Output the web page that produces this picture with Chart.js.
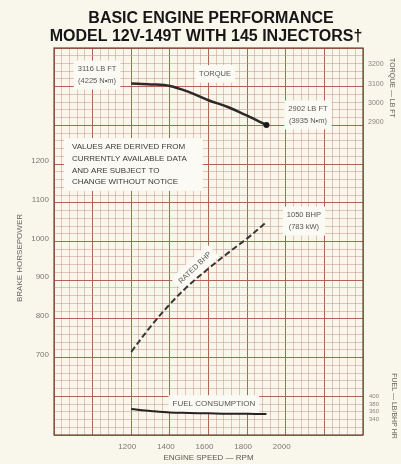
<!DOCTYPE html>
<html>
<head>
<meta charset="utf-8">
<script src="https://cdn.jsdelivr.net/npm/chart.js@4.4.0/dist/chart.umd.min.js"></script>
<style>
  html, body { margin: 0; padding: 0; background: #f9f6ec; }
</style>
</head>
<body>
<canvas id="perfChart" width="401" height="464"></canvas>
<script>
// values
var rpm = [1200, 1300, 1400, 1500, 1600, 1700, 1800, 1900];
var bhp = [715, 780, 838, 888, 930, 970, 1008, 1050];
var torque = [3116, 3112, 3104, 3072, 3030, 2995, 2950, 2902];
var fuel = [367, 362, 358, 357, 356, 355, 355, 354];

// which tick labels are printed on each axis
var rpmLabels = [1200, 1400, 1600, 1800, 2000];
var bhpLabels = [700, 800, 900, 1000, 1100, 1200];
var torqueLabels = [2900, 3000, 3100, 3200];
var fuelLabels = [340, 360, 380, 400];

var MAJOR = 'rgb(178, 100, 82)';
var MINOR = 'rgba(196, 146, 134, 0.5)';
var FONT = '"Liberation Sans", Arial, sans-serif';

function pts(ys) {
  return rpm.map(function (r, i) { return { x: r, y: ys[i] }; });
}

function onlyLabels(list) {
  return function (v) { return list.indexOf(v) >= 0 ? String(v) : ''; };
}

// text on the sheet, placed in rpm / bhp units
var notes = [
  { lines: ['3116 LB FT', '(4225 N\u2022m)'], rpm: 1023, bhp: 1430, size: 7.5 },
  { lines: ['TORQUE'], rpm: 1634, bhp: 1433, size: 7.5 },
  { lines: ['2902 LB FT', '(3935 N\u2022m)'], rpm: 2115, bhp: 1327, size: 7.5 },
  { lines: ['1050 BHP', '(783 kW)'], rpm: 2094, bhp: 1053, size: 7.5 },
  { lines: ['VALUES ARE DERIVED FROM', 'CURRENTLY AVAILABLE DATA', 'AND ARE SUBJECT TO', 'CHANGE WITHOUT NOTICE'],
    rpm: 893, bhp: 1199, size: 8, align: 'left', lh: 11.7, color: '#3d3a36' },
  { lines: ['RATED BHP'], rpm: 1530, bhp: 932, size: 7.5, rotate: -44 },
  { lines: ['FUEL CONSUMPTION'], rpm: 1628, bhp: 580, size: 8 }
];

var sheet = {
  id: 'sheet',
  beforeDraw: function (chart) {
    var ctx = chart.ctx;
    ctx.save();
    ctx.fillStyle = '#f9f6ec';
    ctx.fillRect(0, 0, chart.width, chart.height);
    ctx.restore();
  },
  beforeDatasetsDraw: function (chart) {
    var ctx = chart.ctx, sx = chart.scales.x, sy = chart.scales.y;
    notes.forEach(function (n) {
      var lh = n.lh || 11.5;
      ctx.save();
      ctx.translate(sx.getPixelForValue(n.rpm), sy.getPixelForValue(n.bhp));
      if (n.rotate) ctx.rotate(n.rotate * Math.PI / 180);
      ctx.font = n.size + 'px ' + FONT;
      var w = 0;
      n.lines.forEach(function (t) { w = Math.max(w, ctx.measureText(t).width); });
      var h = lh * n.lines.length;
      var x0 = n.align === 'left' ? -8 : -w / 2 - 4;
      ctx.fillStyle = '#fbfaf4';
      ctx.fillRect(x0, -h / 2 - 3, w + (n.align === 'left' ? 24 : 8), h + 6);
      ctx.fillStyle = n.color || '#5a5652';
      ctx.textAlign = n.align || 'center';
      ctx.textBaseline = 'middle';
      n.lines.forEach(function (t, i) {
        ctx.fillText(t, 0, -h / 2 + lh * (i + 0.5));
      });
      ctx.restore();
    });
  },
  afterDraw: function (chart) {
    var ctx = chart.ctx, a = chart.chartArea;
    ctx.save();
    ctx.strokeStyle = 'rgb(120, 70, 55)';
    ctx.lineWidth = 1.2;
    ctx.strokeRect(a.left, a.top, a.right - a.left, a.bottom - a.top);

    ctx.fillStyle = '#161616';
    ctx.textAlign = 'center';
    ctx.textBaseline = 'middle';
    ctx.font = 'bold 16px ' + FONT;
    ctx.fillText('BASIC ENGINE PERFORMANCE', 211, 19);
    ctx.fillText('MODEL 12V-149T WITH 145 INJECTORS\u2020', 206, 37);

    ctx.fillStyle = '#6a6662';
    ctx.font = '8px ' + FONT;
    ctx.save();
    ctx.translate(20, 258);
    ctx.rotate(-Math.PI / 2);
    ctx.fillText('BRAKE HORSEPOWER', 0, 0);
    ctx.restore();

    ctx.font = '7px ' + FONT;
    ctx.save();
    ctx.translate(392, 88);
    ctx.rotate(Math.PI / 2);
    ctx.fillText('TORQUE \u2014 LB FT', 0, 0);
    ctx.restore();

    ctx.save();
    ctx.translate(394, 406);
    ctx.rotate(Math.PI / 2);
    ctx.fillText('FUEL \u2014 LB/BHP HR', 0, 0);
    ctx.restore();
    ctx.restore();
  }
};

function gridColor(step) {
  return function (c) { return c.tick && Math.abs(c.tick.value % step) < 1e-6 ? MAJOR : MINOR; };
}

var perfChart = new Chart(document.getElementById('perfChart'), {
  type: 'line',
  data: {
    datasets: [{
      label: 'Rated BHP',
      data: pts(bhp),
      yAxisID: 'y',
      borderColor: '#3b3632',
      borderWidth: 2,
      borderDash: [6, 3],
      pointRadius: 0,
      tension: 0.35
    }, {
      label: 'Torque',
      data: pts(torque),
      yAxisID: 'yT',
      borderColor: '#2c2926',
      borderWidth: 2.5,
      pointRadius: [0, 0, 0, 0, 0, 0, 0, 3],
      pointBackgroundColor: '#1a1a1a',
      pointBorderWidth: 0,
      tension: 0.35
    }, {
      label: 'Fuel consumption',
      data: pts(fuel),
      yAxisID: 'yF',
      borderColor: '#252220',
      borderWidth: 2,
      pointRadius: 0,
      tension: 0.35
    }]
  },
  options: {
    responsive: false,
    animation: false,
    devicePixelRatio: 1,
    layout: { padding: { top: 48, left: 0, right: 0, bottom: 0 } },
    plugins: {
      legend: { display: false },
      tooltip: { enabled: false }
    },
    scales: {
      x: {
        type: 'linear',
        min: 800,
        max: 2400,
        afterFit: function (s) { s.height = 29; },
        ticks: {
          stepSize: 40,
          autoSkip: false,
          maxRotation: 0,
          padding: 7,
          labelOffset: -4,
          color: '#7d7873',
          font: { family: FONT, size: 8 },
          callback: onlyLabels(rpmLabels)
        },
        grid: { color: gridColor(200), drawTicks: false },
        border: { display: false },
        title: {
          display: true,
          text: 'ENGINE SPEED \u2014 RPM',
          color: '#5d5955',
          font: { family: FONT, size: 8 },
          padding: { top: 0, bottom: 1 }
        }
      },
      y: {
        position: 'left',
        min: 500,
        max: 1500,
        afterFit: function (s) { s.width = 54; },
        ticks: {
          stepSize: 20,
          autoSkip: false,
          padding: 5,
          labelOffset: -3,
          color: '#7d7873',
          font: { family: FONT, size: 8 },
          callback: onlyLabels(bhpLabels)
        },
        grid: { color: gridColor(100), drawTicks: false },
        border: { display: false }
      },
      // zero-width axis sharing the torque column; mirrored so its labels are not clipped
      yF: {
        position: 'right',
        weight: 0,
        min: 300,
        max: 1300,
        afterFit: function (s) { s.width = 0; },
        ticks: {
          stepSize: 20,
          autoSkip: false,
          mirror: true,
          padding: 16,
          color: '#8a8580',
          font: { family: FONT, size: 6 },
          callback: onlyLabels(fuelLabels)
        },
        grid: { display: false, drawTicks: false },
        border: { display: false }
      },
      yT: {
        position: 'right',
        weight: 1,
        min: 1300,
        max: 3300,
        afterFit: function (s) { s.width = 38; },
        ticks: {
          stepSize: 100,
          autoSkip: false,
          padding: 5,
          labelOffset: -3,
          color: '#8a8580',
          font: { family: FONT, size: 7 },
          callback: onlyLabels(torqueLabels)
        },
        grid: { display: false, drawTicks: false },
        border: { display: false }
      }
    }
  },
  plugins: [sheet]
});
</script>
</body>
</html>
